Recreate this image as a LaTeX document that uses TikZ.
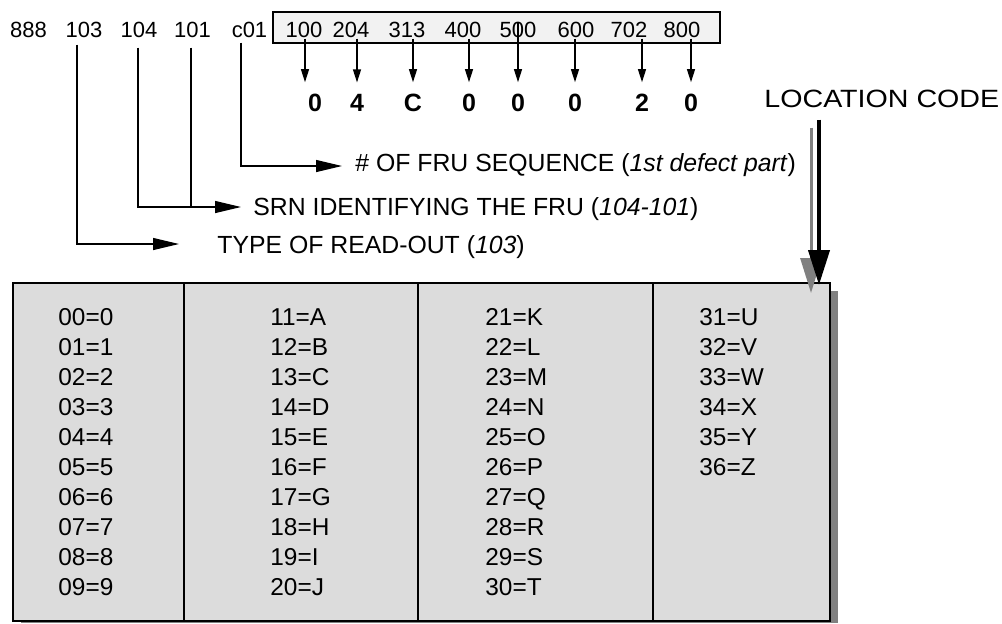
\documentclass[tikz,border=0pt]{standalone}
\usepackage{fontspec}
\setmainfont{Liberation Sans}
\usetikzlibrary{arrows.meta}

\definecolor{tablegray}{HTML}{DCDCDC}
\definecolor{stripgray}{HTML}{F2F2F2}
\definecolor{shadegray}{HTML}{808080}

\begin{document}
\begin{tikzpicture}[x=0.5pt,y=-0.5pt,
	code/.style={inner sep=0pt,anchor=base,font=\fontsize{11}{13}\selectfont},
	digit/.style={inner sep=0pt,anchor=base,font=\fontsize{12.5}{15}\selectfont\bfseries},
	note/.style={inner sep=0pt,anchor=base west,font=\fontsize{12.4}{15}\selectfont},
	lead/.style={line width=0.6pt,-{Triangle[length=13pt,width=6pt]}},
	pick/.style={line width=0.6pt,shorten <=0.5pt,-{Triangle[length=6.5pt,width=4pt]}},
	locarrow/.style={line width=2pt,-{Triangle[length=17.5pt,width=10.5pt]}}]
	\useasboundingbox (0,0) rectangle (1002,623);
	
	% read-out line
	\node[code] (l888) at (28.5,37) {888};
	\node[code] (l103) at (84,37) {103};
	\node[code] (l104) at (139,37) {104};
	\node[code] (l101) at (192.5,37) {101};
	\node[code] (lc01) at (249.5,37) {c01};
	
	\node[draw,line width=1pt,fill=stripgray,minimum width=223.5pt,minimum height=15.5pt] (strip) at (496.5,27.5) {};
	\node[code] (n100) at (304,37) {100};
	\node[code] (n204) at (351,37) {204};
	\node[code] (n313) at (407,37) {313};
	\node[code] (n400) at (463,37) {400};
	\node[code] (n500) at (518,37) {500};
	\node[code] (n600) at (576,37) {600};
	\node[code] (n702) at (629,37) {702};
	\node[code] (n800) at (682,37) {800};
	
	\node[digit] (d1) at (315,111) {0};
	\node[digit] (d2) at (357,111) {4};
	\node[digit] (d3) at (413,111) {C};
	\node[digit] (d4) at (469,111) {0};
	\node[digit] (d5) at (518,111) {0};
	\node[digit] (d6) at (575,111) {0};
	\node[digit] (d7) at (642,111) {2};
	\node[digit] (d8) at (691,111) {0};
	
	\draw[pick,shorten >=5.5pt] ([xshift=-5pt]d1.north |- n100.south) -- ([xshift=-5pt]d1.north);
	\draw[pick,shorten >=5.5pt] (d2.north |- n204.south) -- (d2.north);
	\draw[pick,shorten >=5.5pt] (d3.north |- n313.south) -- (d3.north);
	\draw[pick,shorten >=5.5pt] (d4.north |- n400.south) -- (d4.north);
	\draw[pick,shorten >=5.5pt] (d5.north |- n500.north) -- (d5.north);
	\draw[pick,shorten >=5.5pt] (d6.north |- n600.south) -- (d6.north);
	\draw[pick,shorten >=5.5pt] (d7.north |- n702.south) -- (d7.north);
	\draw[pick,shorten >=5.5pt] (d8.north |- n800.south) -- (d8.north);
	
	% meaning of the fields
	\node[note] (tSeq) at (355,171) {\# OF FRU SEQUENCE (\textit{1st defect part})};
	\node[note] (tSrn) at (253,215) {SRN IDENTIFYING THE FRU (\textit{104-101})};
	\node[note] (tType) at (217,253) {TYPE OF READ-OUT (\textit{103})};
	
	\coordinate (eSeq) at (342,166);
	\coordinate (eSrn) at (241,207);
	\coordinate (eType) at (179,244);
	
	\draw[lead,shorten <=2.5pt] ([xshift=-4.25pt]lc01.south) |- (eSeq);
	\draw[lead,shorten <=5pt] ([xshift=-0.5pt]l104.south) |- (eSrn);
	\draw[line width=0.6pt,shorten <=5pt] ([xshift=-0.75pt]l101.south) -- ([xshift=-0.75pt]l101.south |- eSrn);
	\draw[lead,shorten <=3.5pt] ([xshift=-3.5pt]l103.south) |- (eType);
	
	% code table
	\fill[shadegray] (21,291) rectangle (838,623);
	\node[draw,line width=1pt,fill=tablegray,minimum width=408.5pt,minimum height=169pt] (table) at (421.5,452) {};
	\coordinate (c1) at (184,0);
	\coordinate (c2) at (418,0);
	\coordinate (c3) at (653,0);
	\draw[line width=1pt] (table.north -| c1) -- (table.south -| c1);
	\draw[line width=1pt] (table.north -| c2) -- (table.south -| c2);
	\draw[line width=1pt] (table.north -| c3) -- (table.south -| c3);
	
	\begin{scope}[every node/.style={inner sep=0pt,anchor=base west,font=\fontsize{12.2}{15}\selectfont}]
	\node (k00) at (58,325) {00=0};
	\node (k01) at (58,355) {01=1};
	\node (k02) at (58,385) {02=2};
	\node (k03) at (58,415) {03=3};
	\node (k04) at (58,445) {04=4};
	\node (k05) at (58,475) {05=5};
	\node (k06) at (58,505) {06=6};
	\node (k07) at (58,535) {07=7};
	\node (k08) at (58,565) {08=8};
	\node (k09) at (58,595) {09=9};
	\node (k11) at (270,325) {11=A};
	\node (k12) at (270,355) {12=B};
	\node (k13) at (270,385) {13=C};
	\node (k14) at (270,415) {14=D};
	\node (k15) at (270,445) {15=E};
	\node (k16) at (270,475) {16=F};
	\node (k17) at (270,505) {17=G};
	\node (k18) at (270,535) {18=H};
	\node (k19) at (270,565) {19=I};
	\node (k20) at (270,595) {20=J};
	\node (k21) at (485,325) {21=K};
	\node (k22) at (485,355) {22=L};
	\node (k23) at (485,385) {23=M};
	\node (k24) at (485,415) {24=N};
	\node (k25) at (485,445) {25=O};
	\node (k26) at (485,475) {26=P};
	\node (k27) at (485,505) {27=Q};
	\node (k28) at (485,535) {28=R};
	\node (k29) at (485,565) {29=S};
	\node (k30) at (485,595) {30=T};
	\node (k31) at (699,325) {31=U};
	\node (k32) at (699,355) {32=V};
	\node (k33) at (699,385) {33=W};
	\node (k34) at (699,415) {34=X};
	\node (k35) at (699,445) {35=Y};
	\node (k36) at (699,475) {36=Z};
	\end{scope}
	
	% location code
	\node[inner sep=0pt,anchor=base west,font=\fontsize{12.5}{15}\selectfont] (loc) at (764,107) {\scalebox{1.145}[1]{LOCATION CODE}};
	\coordinate (eShade) at (811,293);
	\coordinate (eLoc) at (819,285);
	\draw[locarrow,shadegray,line width=1.5pt,shorten <=10pt] (loc.south -| eShade) -- (eShade);
	\draw[locarrow,shorten <=6pt] (loc.south -| eLoc) -- (eLoc);
\end{tikzpicture}
\end{document}
